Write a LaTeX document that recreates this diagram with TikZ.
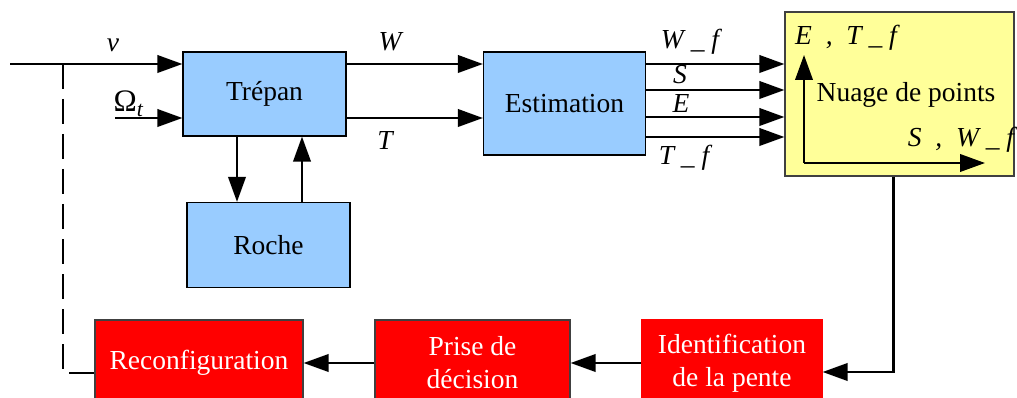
\documentclass[tikz,border=0pt]{standalone}
\usepackage{fontspec}
\setmainfont{Liberation Serif}
\usetikzlibrary{arrows.meta,calc}

\definecolor{blockblue}{HTML}{99CCFF}
\definecolor{cloudyellow}{HTML}{FFFF99}

\begin{document}
\begin{tikzpicture}[x=0.4pt, y=-0.4pt, font=\fontsize{11}{13.2}\selectfont,
  arr/.style={line width=0.9pt, -{Triangle[length=10pt,width=7pt]}},
  bluebox/.style={draw, line width=0.5pt, fill=blockblue, inner sep=0pt},
  redbox/.style={draw=black!75, line width=0.5pt, fill=red, text=white,
    align=center, inner sep=0pt},
  lbl/.style={font=\fontsize{11}{13.2}\selectfont\itshape, inner sep=1pt}]

\def\u{0.4pt}    % one pixel of the reference

\useasboundingbox (0,0) rectangle (1017,398);

% blocks
\node[bluebox, minimum width=163*\u, minimum height=84*\u] (trepan) at (264.5,94) {Trépan};
\node[bluebox, minimum width=163*\u, minimum height=85*\u] (roche) at (268.5,245) {Roche};
\node[bluebox, minimum width=162*\u, minimum height=103*\u] (estim) at (564.5,103.5) {Estimation};
\node[draw=black!75, line width=0.5pt, fill=cloudyellow, minimum width=229*\u,
  minimum height=164*\u] (nuage) at (899.5,94) {};
\node (nuagetxt) at (906,95) {Nuage de points};
\node[redbox, minimum width=208*\u, minimum height=86*\u] (reconf) at (199,363) {Reconfiguration};
\node[redbox, minimum width=195*\u, minimum height=86*\u] (prise) at (472.5,363) {Prise de\\décision};
\node[redbox, draw=red, minimum width=180*\u, minimum height=86*\u] (ident) at (732,363)
  {Identification\\de la pente};

% inputs of the drill
\coordinate (vin) at (10,64);
\coordinate (omin) at (115,118);
\draw[arr] (vin) -- (vin -| trepan.west);
\draw[arr] (omin) -- (omin -| trepan.west);
\node[lbl] (vlbl) at (113,45) {v};
\node[lbl] (omlbl) at (129,104) {\upshape\fontsize{12.5}{14}\selectfont Ω\textsubscript{\itshape t}};

% drill <-> rock
\draw[arr] ($(trepan.south)+(-27.5,0)$) -- ($(roche.north)+(-31.5,0)$);
\draw[arr] ($(roche.north)+(33.5,0)$) -- ($(trepan.south)+(37.5,0)$);

% drill -> estimation
\draw[arr] (trepan.east |- vin) -- (estim.west |- vin);
\draw[arr] (trepan.east |- omin) -- (estim.west |- omin);
\node[lbl] (wlbl) at (390,42) {W};
\node[lbl] (tlbl) at (385,140) {T};

% estimation -> cloud
\foreach \dy in {-39.5,-13.5,13.5,33.5}
  \draw[arr] ($(estim.east)+(0,\dy)$) -- ($(estim.east -| nuage.west)+(0,\dy)$);
\node[lbl] (wflbl) at (690,42) {W \_ f};
\node[lbl] (slbl) at (680,75) {S};
\node[lbl] (elbl) at (681,104) {E};
\node[lbl] (tflbl) at (684,158) {T \_ f};

% axes in the cloud
\coordinate (org) at (804,163);
\coordinate (eaxis) at (804,55);
\coordinate (saxis) at (985,163);
\draw[arr] (org) -- (eaxis);
\draw[arr] (org) -- (saxis);
\node[lbl] (etlbl) at (846,38) {E\enspace,\enspace T \_ f};
\node[lbl] (swlbl) at (961,140) {S\enspace,\enspace W \_ f};

% decision loop
\draw[arr] ($(nuage.south)+(-6,0)$) |- ($(ident.east)+(0,9)$);
\draw[arr] (ident.west) -- (prise.east);
\draw[arr] (prise.west) -- (reconf.east);
\coordinate (tap) at (63,64);
\draw[line width=0.9pt, dash pattern=on 10pt off 4pt] (tap) |- ($(reconf.west)+(0,10)$);

\end{tikzpicture}
\end{document}
